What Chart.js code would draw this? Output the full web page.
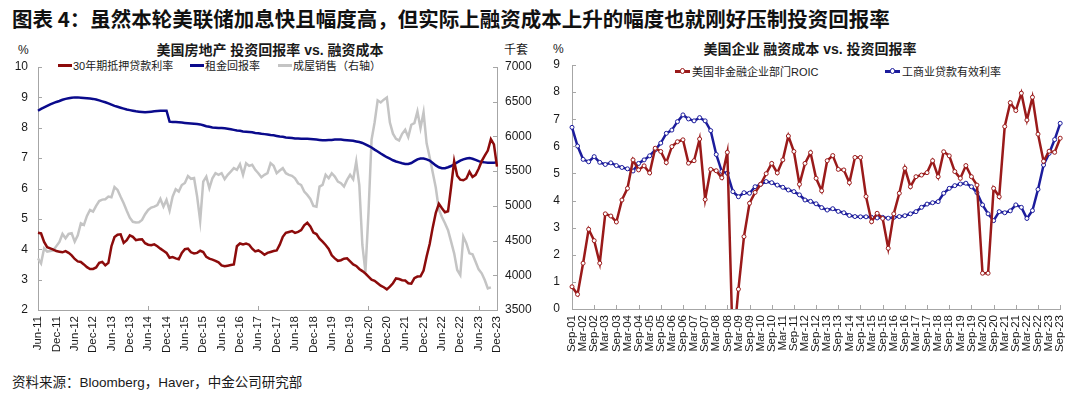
<!DOCTYPE html>
<html>
<head>
<meta charset="utf-8">
<script src="https://cdn.jsdelivr.net/npm/chart.js@4.4.1/dist/chart.umd.min.js"></script>
<style>
  body { margin: 0; background: #fff; }
  #wrap { position: relative; width: 1080px; height: 397px; overflow: hidden; background: #fff;
          font-family: Arial, "Liberation Sans", "Noto Sans CJK SC", sans-serif; color: #1a1a1a; }
  .abs { position: absolute; line-height: 1; white-space: nowrap; }
  .main { left: 12px; top: 7.5px; font-size: 20.5px; font-weight: bold; font-family: "Noto Sans CJK SC", sans-serif; color: #111; }
  .foot { left: 12px; top: 376px; font-size: 13.5px; }
  .ctitle { width: 540px; text-align: center; font-size: 14px; font-weight: bold; top: 43px; }
  .unit { font-size: 12px; top: 44px; }
  .leg { font-size: 11px; }
  .sw { display: inline-block; width: 14px; height: 3px; vertical-align: middle; margin-right: 1px; position: relative; top: -1px; }
  .sw2 { display: inline-block; width: 15px; height: 2.5px; vertical-align: middle; margin-right: 2px; position: relative; top: -1px; }
  .sw2::after { content: ''; position: absolute; left: 4.5px; top: -2px; width: 3.5px; height: 3.5px; border: 1px solid var(--c); border-radius: 50%; background: #fff; }
  canvas { position: absolute; }
</style>
</head>
<body>
<div id="wrap">
  <div class="abs main">图表 4：虽然本轮美联储加息快且幅度高，但实际上融资成本上升的幅度也就刚好压制投资回报率</div>

  <div class="abs ctitle" style="left:0">美国房地产 投资回报率 vs. 融资成本</div>
  <div class="abs unit" style="left:18px">%</div>
  <div class="abs unit" style="left:504px">千套</div>
  <div class="abs leg" style="left:58px;top:60.5px"><span class="sw" style="background:#8c0b0b"></span>30年期抵押贷款利率</div>
  <div class="abs leg" style="left:190px;top:60.5px"><span class="sw" style="background:#0a0a8c"></span>租金回报率</div>
  <div class="abs leg" style="left:278px;top:60.5px"><span class="sw" style="background:#c4c4c4"></span>成屋销售（右轴）</div>

  <div class="abs ctitle" style="left:540px;top:42px">美国企业 融资成本 vs. 投资回报率</div>
  <div class="abs unit" style="left:553px;top:43px">%</div>
  <div class="abs leg" style="left:675px;top:66.5px"><span class="sw2" style="background:#9a1a1a;--c:#9a1a1a"></span>美国非金融企业部门ROIC</div>
  <div class="abs leg" style="left:885px;top:66.5px"><span class="sw2" style="background:#1c1c9c;--c:#1c1c9c"></span>工商业贷款有效利率</div>

  <canvas id="houseChart" width="540" height="330" style="left:0;top:40px"></canvas>
  <canvas id="corpChart" width="540" height="330" style="left:540px;top:40px"></canvas>

  <div class="abs foot">资料来源：Bloomberg，Haver，中金公司研究部</div>
</div>
<script>
var MON = ['Jan','Feb','Mar','Apr','May','Jun','Jul','Aug','Sep','Oct','Nov','Dec'];
function monthLabels(year, month, count, step) {
  var out = [];
  for (var i = 0; i < count; i++) {
    var k = month + i * step;
    var y = year + Math.floor(k / 12);
    out.push(MON[k % 12] + '-' + String(y % 100).padStart(2, '0'));
  }
  return out;
}

// 左图：月度 Jun-11 ~ Dec-23
var houseMonths = monthLabels(2011, 5, 151, 1);

var mortgageRate = [
  4.54,4.52,4.24,4.07,4.03,3.99,3.94,3.92,3.9,3.94,
  3.88,3.8,3.68,3.6,3.58,3.5,3.41,3.35,3.35,3.4,
  3.55,3.58,3.47,3.55,4.1,4.4,4.48,4.49,4.21,4.3,
  4.46,4.41,4.3,4.32,4.33,4.2,4.15,4.13,4.16,4.1,
  4.02,3.95,3.88,3.72,3.74,3.7,3.67,3.88,4.0,4.02,
  3.9,3.86,3.88,3.95,3.91,3.75,3.69,3.66,3.62,3.57,
  3.47,3.44,3.46,3.48,3.5,4.1,4.19,4.16,4.19,4.15,
  4.02,3.93,3.96,3.9,3.82,3.88,3.91,3.94,3.96,4.15,
  4.41,4.54,4.57,4.6,4.54,4.57,4.63,4.79,4.87,4.75,
  4.55,4.5,4.35,4.25,4.14,4.01,3.8,3.7,3.62,3.64,
  3.69,3.7,3.6,3.5,3.45,3.35,3.28,3.2,3.1,3.0,
  2.96,2.88,2.8,2.75,2.68,2.77,2.88,3.04,3.02,2.98,
  2.97,2.88,2.87,3.05,3.1,3.11,3.3,3.76,4.17,4.72,
  5.2,5.5,5.35,5.22,5.25,6.05,6.9,6.42,6.29,6.27,
  6.33,6.55,6.38,6.45,6.65,6.9,7.08,7.25,7.62,7.45,
  6.72
];

var rentYield = [
  8.56,8.62,8.67,8.72,8.77,8.81,8.85,8.88,8.92,8.95,
  8.97,8.99,9.0,9.0,8.99,8.98,8.97,8.96,8.95,8.93,
  8.9,8.87,8.84,8.8,8.76,8.72,8.69,8.66,8.63,8.6,
  8.58,8.56,8.54,8.53,8.52,8.51,8.52,8.53,8.54,8.55,
  8.56,8.56,8.56,8.2,8.19,8.19,8.18,8.17,8.16,8.15,
  8.14,8.13,8.12,8.11,8.08,8.05,8.03,8.01,8.0,7.99,
  7.99,7.98,7.97,7.95,7.93,7.91,7.9,7.88,7.87,7.86,
  7.85,7.83,7.82,7.8,7.79,7.78,7.76,7.75,7.73,7.71,
  7.7,7.68,7.67,7.66,7.65,7.65,7.64,7.64,7.64,7.63,
  7.62,7.61,7.6,7.59,7.59,7.6,7.6,7.61,7.61,7.61,
  7.6,7.59,7.58,7.57,7.55,7.53,7.5,7.45,7.4,7.35,
  7.28,7.22,7.15,7.09,7.03,6.98,6.93,6.89,6.86,6.83,
  6.81,6.81,6.84,6.9,6.96,6.99,6.99,6.96,6.92,6.84,
  6.76,6.7,6.67,6.67,6.7,6.74,6.8,6.86,6.92,6.96,
  6.99,7.0,6.98,6.94,6.9,6.87,6.86,6.85,6.85,6.85,
  6.86
];

// 成屋销售，千套（右轴）
var homeSales = [
  4244,4172,4388,4340,4350,4360,4420,4480,4595,4533,
  4595,4605,4485,4575,4749,4725,4855,4940,4917,5000,
  5070,5090,5095,5134,5124,5270,5230,5130,5037,4930,
  4830,4770,4760,4765,4797,4880,4941,4975,4989,5010,
  5100,4989,5086,4932,5134,5240,5206,5300,5330,5430,
  5390,5400,5134,4783,5350,5422,5254,5398,5470,5447,
  5470,5384,5447,5494,5543,5519,5600,5447,5615,5576,
  5591,5519,5470,5413,5447,5470,5615,5576,5470,5509,
  5543,5470,5447,5432,5398,5326,5300,5206,5158,5100,
  5000,4989,5278,5302,5447,5398,5470,5422,5350,5326,
  5278,5374,5447,5384,5639,5300,4436,4050,4900,5951,
  6200,6520,6490,6530,6560,6200,6040,5966,5942,6038,
  6096,5990,6168,6192,6360,6120,6346,5900,5700,5480,
  5260,4950,4840,4750,4650,4485,4316,4076,4004,4557,
  4460,4316,4302,4196,4085,4028,3932,3812,3826
];

// 右图：季度 Sep-01 ~ Sep-23
var corpQuarters = monthLabels(2001, 8, 89, 3);

var roic = [
  0.82,0.54,1.69,2.94,2.52,1.69,3.51,3.43,3.21,4.02,
  4.45,5.5,5.13,5.28,5.02,5.93,5.81,5.4,5.99,6.17,
  6.24,5.38,5.47,6.27,4.04,5.15,5.1,4.84,5.78,-1.5,
  0.73,2.67,3.9,4.3,4.6,4.99,5.37,5.02,5.5,6.38,
  5.81,4.6,5.37,5.77,4.82,4.36,5.47,5.66,5.15,5.13,
  4.66,5.59,5.59,4.15,3.22,3.53,3.34,2.24,3.51,4.27,
  5.19,4.51,4.88,4.94,5.03,5.47,4.88,5.8,5.65,5.07,
  4.82,5.29,4.88,4.57,1.32,1.32,4.45,4.14,6.73,7.61,
  7.32,7.96,6.97,7.81,6.45,5.45,5.82,5.78,6.3
];

var loanRate = [
  6.7,6.01,5.52,5.43,5.62,5.41,5.33,5.39,5.29,5.22,
  5.17,5.09,5.37,5.5,5.65,5.87,6.12,6.48,6.6,6.91,
  7.16,7.01,6.94,7.06,6.94,6.58,5.7,5.07,5.01,4.33,
  4.14,4.29,4.27,4.51,4.6,4.7,4.66,4.57,4.49,4.39,
  4.33,4.21,4.02,3.97,3.88,3.74,3.65,3.7,3.6,3.55,
  3.45,3.41,3.4,3.4,3.38,3.36,3.38,3.35,3.38,3.41,
  3.44,3.51,3.59,3.75,3.87,3.92,3.96,4.27,4.45,4.55,
  4.61,4.64,4.51,4.29,3.84,3.51,3.26,3.59,3.55,3.62,
  3.84,3.75,3.34,3.63,4.41,5.31,5.74,6.25,6.85
];

Chart.defaults.font.family = 'Arial, "Liberation Sans", "Noto Sans CJK SC", sans-serif';
Chart.defaults.color = '#1a1a1a';
Chart.defaults.animation = false;

var AXIS = '#a6a6a6';

// 刻度线画在坐标轴内侧
var innerTicks = {
  id: 'innerTicks',
  afterDraw: function(chart, args, opts) {
    var ctx = chart.ctx, a = chart.chartArea;
    ctx.save();
    ctx.strokeStyle = AXIS;
    ctx.lineWidth = 1;
    ctx.beginPath();
    Object.values(chart.scales).forEach(function(s) {
      s.ticks.forEach(function(t, i) {
        if (s.isHorizontal()) {
          if (i % opts.every) return;
          var x = Math.round(s.getPixelForTick(i)) + 0.5;
          ctx.moveTo(x, a.bottom);
          ctx.lineTo(x, a.bottom - 4);
        } else {
          var y = Math.round(s.getPixelForValue(t.value)) + 0.5;
          var left = s.position === 'left';
          var x0 = left ? a.left : a.right;
          ctx.moveTo(x0, y);
          ctx.lineTo(x0 + (left ? 4 : -4), y);
        }
      });
    });
    ctx.stroke();
    ctx.restore();
  }
};

function xAxis(every, height) {
  return {
    grid: { display: false, drawTicks: false },
    border: { color: AXIS },
    ticks: {
      autoSkip: false, minRotation: 90, maxRotation: 90, padding: 6,
      font: { size: 11.5 }, color: '#1a1a1a',
      callback: function(v, i) { return i % every === 0 ? this.getLabelForValue(v) : null; }
    },
    afterFit: function(s) { s.height = height; }
  };
}

function yAxis(pos, min, max, step, pad, width) {
  return {
    position: pos, min: min, max: max,
    grid: { display: false, drawTicks: false },
    border: { color: AXIS },
    ticks: { stepSize: step, padding: pad, font: { size: 12 }, color: '#1a1a1a',
             callback: function(v) { return String(v); } },
    afterFit: function(s) { s.width = width; }
  };
}

new Chart(document.getElementById('houseChart'), {
  type: 'line',
  data: {
    labels: houseMonths,
    datasets: [
      { label: '30年期抵押贷款利率', data: mortgageRate, borderColor: '#8c0b0b', borderWidth: 2.5, pointRadius: 0, yAxisID: 'y' },
      { label: '租金回报率', data: rentYield, borderColor: '#0a0a8c', borderWidth: 2.5, pointRadius: 0, yAxisID: 'y' },
      { label: '成屋销售（右轴）', data: homeSales, borderColor: '#c4c4c4', borderWidth: 2.5, pointRadius: 0, yAxisID: 'y1' }
    ]
  },
  options: {
    responsive: false,
    layout: { padding: { left: 8, right: 3, top: 27, bottom: 8 } },
    plugins: { legend: { display: false }, tooltip: { enabled: false }, innerTicks: { every: 6 } },
    scales: {
      x: xAxis(6, 52),
      y: yAxis('left', 2, 10, 1, 10, 30),
      y1: yAxis('right', 3500, 7000, 500, 8, 40)
    }
  },
  plugins: [innerTicks]
});

new Chart(document.getElementById('corpChart'), {
  type: 'line',
  data: {
    labels: corpQuarters,
    datasets: [
      { label: '美国非金融企业部门ROIC', data: roic, borderColor: '#9a1a1a', borderWidth: 2.5,
        pointRadius: 2, pointBorderWidth: 1, pointBackgroundColor: '#fff', pointBorderColor: '#9a1a1a' },
      { label: '工商业贷款有效利率', data: loanRate, borderColor: '#1c1c9c', borderWidth: 2.5,
        pointRadius: 2, pointBorderWidth: 1, pointBackgroundColor: '#fff', pointBorderColor: '#1c1c9c' }
    ]
  },
  options: {
    responsive: false,
    layout: { padding: { left: 5, right: 14, top: 25, bottom: 6 } },
    plugins: { legend: { display: false }, tooltip: { enabled: false }, innerTicks: { every: 2 } },
    scales: {
      x: xAxis(2, 55),
      y: yAxis('left', 0, 9, 1, 12, 27)
    }
  },
  plugins: [innerTicks]
});
</script>
</body>
</html>
